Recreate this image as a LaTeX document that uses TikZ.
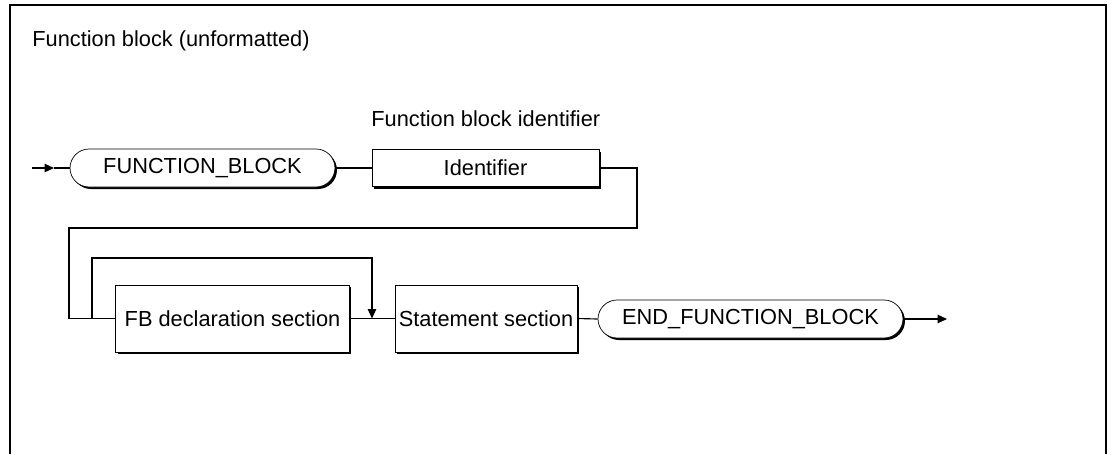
\documentclass[tikz,border=0pt]{standalone}
\usepackage{fontspec}
\setmainfont{Liberation Sans}
\usepackage{tikz}
\usetikzlibrary{shapes.misc}
\usetikzlibrary{arrows.meta, shadows, positioning}

\begin{document}
\begin{tikzpicture}[
			x=0.02cm, y=-0.02cm, % one unit is one pixel of the original
			every node/.style={
					font=\fontsize{12.4}{14}\selectfont,
					inner sep=0pt
				},
			keyword/.style={
					draw,
					fill=white,
					rounded rectangle,
					minimum height=0.76cm,
					drop shadow={shadow xshift=0.04cm, shadow yshift=-0.04cm, opacity=1, fill=black}
				},
			block/.style={
					draw,
					fill=white,
					rectangle,
					drop shadow={shadow xshift=0.04cm, shadow yshift=-0.04cm, opacity=1, fill=black}
				},
			line/.style={line width=0.65pt}
		]
		\useasboundingbox (0,0) rectangle (1111,454);
		\draw[line width=0.9pt] (10,454) -- (10,5) -- (1106,5) -- (1106,454);

		\node[anchor=base west] (title) at (32,46) {Function block (unformatted)};
		\node[anchor=base west] (idlabel) at (371,126) {Function block identifier};

		\node[keyword, minimum width=5.3cm] (fb) at (202.5,168) {FUNCTION\_BLOCK};
		\node[block, minimum width=4.54cm, minimum height=0.74cm] (ident) at (485.5,168) {Identifier};
		\node[block, minimum width=4.68cm, minimum height=1.34cm] (decl) at (232.5,318.5) {FB declaration section};
		\node[block, minimum width=3.64cm, minimum height=1.34cm] (stmt) at (486,318.5) {Statement section};
		\node[keyword, minimum width=6.1cm] (endfb) at (750.5,319) {END\_FUNCTION\_BLOCK};

		\coordinate (entry) at (32,168);
		\coordinate (entrytip) at (54,168);
		\coordinate (turn) at (637,228);
		\coordinate (back) at (69,318.5);
		\coordinate (split) at (92,318.5);
		\coordinate (loop) at (372,258);
		\coordinate (join) at (372,318.5);
		\coordinate (exit) at (947,319);

		\draw[->, >={Triangle[length=0.19cm, width=0.17cm]}, line] (entry) -- (entrytip);
		\draw[line] (entrytip) -- (fb.west);
		\draw[line] (fb.east) -- (ident.west);
		\draw[line] (ident.east) -| (turn) -| (back) -- (decl.west);
		\draw[->, >={Triangle[length=0.19cm, width=0.17cm]}, line] (split) |- (loop) -- (join);
		\draw[line] (decl.east) -- (stmt.west);
		\draw[line] (stmt.east) -- (endfb.west);
		\draw[->, >={Triangle[length=0.19cm, width=0.17cm]}, line] (endfb.east) -- (exit);
	\end{tikzpicture}
\end{document}
